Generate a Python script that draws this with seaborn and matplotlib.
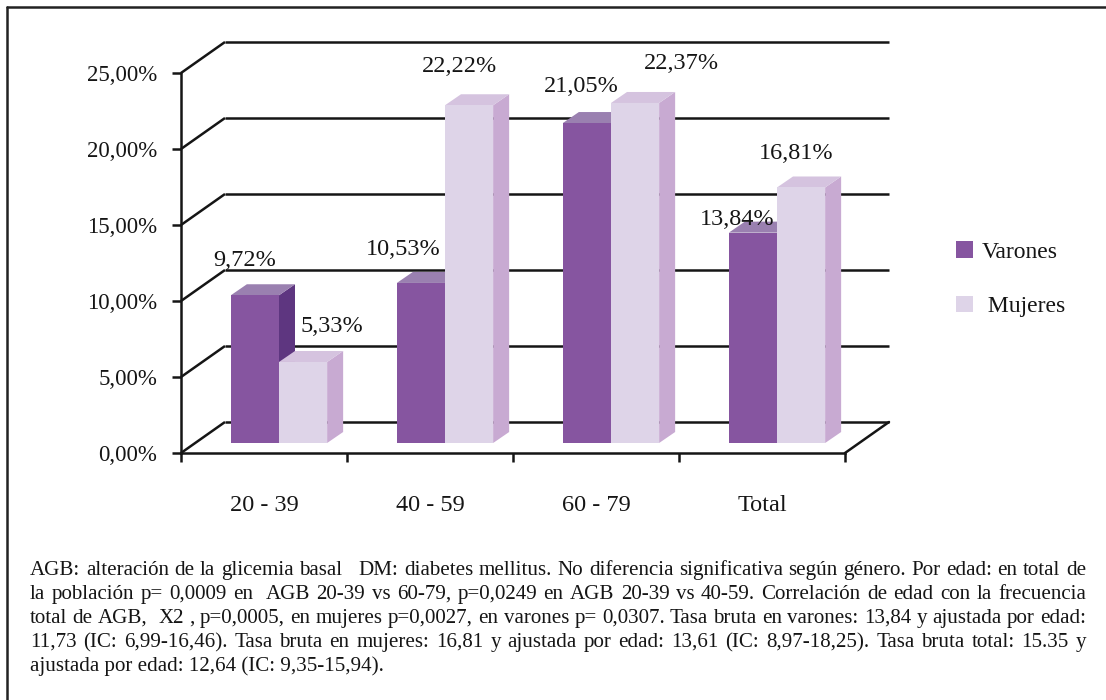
import numpy as np
import pandas as pd
import matplotlib
matplotlib.use("Agg")
import matplotlib.pyplot as plt
import seaborn as sns
from matplotlib.patches import Polygon, Patch
from matplotlib.lines import Line2D

# ---------------- data ----------------
grupos = ["20 - 39", "40 - 59", "60 - 79", "Total"]
series = ["Varones", "Mujeres"]
varones = [9.72, 10.53, 21.05, 13.84]
mujeres = [5.33, 22.22, 22.37, 16.81]
yticks = [0, 5, 10, 15, 20, 25]
caption_lines = [
    "AGB: alteración de la glicemia basal   DM: diabetes mellitus. No diferencia significativa según género. Por edad: en total de",
    "la población p= 0,0009 en  AGB 20-39 vs 60-79, p=0,0249 en AGB 20-39 vs 40-59. Correlación de edad con la frecuencia",
    "total de AGB,  X2 , p=0,0005, en mujeres p=0,0027, en varones p= 0,0307. Tasa bruta en varones: 13,84 y ajustada por edad:",
    "11,73 (IC: 6,99-16,46). Tasa bruta en mujeres: 16,81 y ajustada por edad: 13,61 (IC: 8,97-18,25). Tasa bruta total: 15.35 y",
    "ajustada por edad: 12,64 (IC: 9,35-15,94).",
]

# label nudges (pixels, relative to bar front-top centre), separate from data
label_nudge = {
    "Varones": [(-10, 24), (-18, 23), (-6, 26), (-16, 3)],
    "Mujeres": [(29, 25), (-10, 28), (46, 29), (-5, 23)],
}

# ---------------- style ----------------
sns.set_theme(style="white")
plt.rcParams["font.family"] = ["Liberation Serif", "DejaVu Serif"]
INK = "#151515"

front_col = {"Varones": "#8655A0", "Mujeres": "#DED4E8"}
top_col = {"Varones": "#9A80B0", "Mujeres": "#D5C3DF"}
side_col = {"Varones": "#5E3680", "Mujeres": "#C8AAD2"}

W, H, DPI = 1106, 700, 100
fig = plt.figure(figsize=(W / DPI, H / DPI), dpi=DPI)
fig.patch.set_facecolor("white")

L, R, B, T = 181, 845, 453, 73  # front plane in pixels
ax = fig.add_axes([L / W, 1 - B / H, (R - L) / W, (B - T) / H])
ax.set_facecolor("none")

df = pd.DataFrame({
    "grupo": grupos * 2,
    "valor": varones + mujeres,
    "sexo": [series[0]] * len(grupos) + [series[1]] * len(grupos),
})

sns.barplot(data=df, x="grupo", y="valor", hue="sexo", order=grupos,
            hue_order=series, palette=front_col, width=0.58, saturation=1,
            legend=False, ax=ax, edgecolor="none", linewidth=0)
ax.set_xlim(-0.5, 3.5)
ax.set_ylim(0, 25)

# pixel -> data conversion
sx = 4.0 / (R - L)
sy = 25.0 / (B - T)
FULL_DX, FULL_DY = 44 * sx, 31 * sy      # full depth of the box
BAR_OX, BAR_OY = 15 * sx, 10 * sy        # bar front plane depth
BAR_DX, BAR_DY = 16 * sx, 11 * sy        # bar thickness

LW = 1.8
# back wall gridlines and left diagonals
for v in yticks:
    ax.plot([-0.5, -0.5 + FULL_DX], [v, v + FULL_DY], color=INK, lw=LW,
            clip_on=False, zorder=1, solid_capstyle="butt")
    ax.plot([-0.5 + FULL_DX, 3.5 + FULL_DX], [v + FULL_DY, v + FULL_DY],
            color=INK, lw=LW, clip_on=False, zorder=1, solid_capstyle="butt")
ax.plot([3.5, 3.5 + FULL_DX], [0, FULL_DY], color=INK, lw=LW,
        clip_on=False, zorder=1)

# 3D bars built from seaborn's bars
for k, (cont, name) in enumerate(zip(ax.containers, series)):
    zbase = 3 + 2 * k
    for i, p in enumerate(cont.patches):
        x0 = p.get_x() + BAR_OX
        w = p.get_width()
        h = p.get_height()
        y0 = BAR_OY
        y1 = y0 + h
        p.set_x(x0)
        p.set_y(y0)
        p.set_zorder(zbase + 0.5)
        p.set_clip_on(False)
        side = Polygon([(x0 + w, y0), (x0 + w + BAR_DX, y0 + BAR_DY),
                        (x0 + w + BAR_DX, y1 + BAR_DY), (x0 + w, y1)],
                       closed=True, fc=side_col[name], ec="none",
                       zorder=zbase, clip_on=False)
        top = Polygon([(x0, y1), (x0 + w, y1), (x0 + w + BAR_DX, y1 + BAR_DY),
                       (x0 + BAR_DX, y1 + BAR_DY)], closed=True,
                      fc=top_col[name], ec="none", zorder=zbase, clip_on=False)
        ax.add_patch(side)
        ax.add_patch(top)
        dxp, dyp = label_nudge[name][i]
        ax.annotate(f"{h:.2f}%".replace(".", ","), xy=(x0 + w / 2, y1),
                    xytext=(dxp * 0.72, dyp * 0.72), textcoords="offset points",
                    ha="center", va="bottom", fontsize=17.5, color=INK,
                    zorder=20, annotation_clip=False)

# axes / spines
for s in ["top", "right"]:
    ax.spines[s].set_visible(False)
for s in ["left", "bottom"]:
    ax.spines[s].set_color(INK)
    ax.spines[s].set_linewidth(LW)
    ax.spines[s].set_zorder(2)

ax.set_yticks(yticks)
ax.set_yticklabels([f"{v:.2f}%".replace(".", ",") for v in yticks])
ax.tick_params(axis="y", left=True, direction="out", length=6.5, width=LW,
               color=INK, pad=10.5, labelsize=16.5, labelcolor=INK)
ax.set_xticks(np.arange(-0.5, len(grupos), 1.0))
ax.set_xticklabels([])
ax.set_xticks(range(len(grupos)), minor=True)
ax.set_xticklabels(grupos, minor=True)
ax.tick_params(axis="x", which="major", bottom=True, direction="out",
               length=6.5, width=LW, color=INK)
ax.tick_params(axis="x", which="minor", bottom=True, length=0, pad=30,
               labelsize=17.5, labelcolor=INK)
ax.set_xlabel("")
ax.set_ylabel("")

# legend
handles = [Patch(fc=front_col[s], ec="none") for s in series]
fig.legend(handles, ["Varones", " Mujeres"], loc="upper left",
           bbox_to_anchor=(956 / W, 1 - 241 / H), frameon=False, fontsize=17,
           handlelength=0.7, handleheight=0.7, handletextpad=0.4,
           labelspacing=1.4, borderpad=0, borderaxespad=0, labelcolor=INK)

# outer frame (top and left edges visible)
fig.add_artist(Line2D([7 / W, 1.0], [1 - 7 / H, 1 - 7 / H], color="#222222",
                      lw=1.8, transform=fig.transFigure))
fig.add_artist(Line2D([7 / W, 7 / W], [1 - 7 / H, 0], color="#222222",
                      lw=1.8, transform=fig.transFigure))

# justified caption
renderer = fig.canvas.get_renderer()
XL, XR = 30, 1086
BASE0, STEP = 575, 24.0


def width_px(s, fs):
    t = fig.text(0, 0, s, fontsize=fs)
    wpx = t.get_window_extent(renderer).width
    t.remove()
    return wpx


fs0 = 13.0
maxw = max(width_px(l, fs0) for l in caption_lines[:-1])
fs = fs0 * (XR - XL) * 0.99 / maxw

for li, line in enumerate(caption_lines):
    yb = 1 - (BASE0 + STEP * li) / H
    if li == len(caption_lines) - 1:
        fig.text(XL / W, yb, line, fontsize=fs, va="baseline", ha="left",
                 color=INK)
        continue
    words = line.split(" ")
    ws = [width_px(wd, fs) if wd else 0.0 for wd in words]
    gap = ((XR - XL) - sum(ws)) / (len(words) - 1)
    x = XL
    for wd, wpx in zip(words, ws):
        if wd:
            fig.text(x / W, yb, wd, fontsize=fs, va="baseline", ha="left",
                     color=INK)
        x += wpx + gap

fig.savefig("out.png", dpi=DPI, facecolor="white")
